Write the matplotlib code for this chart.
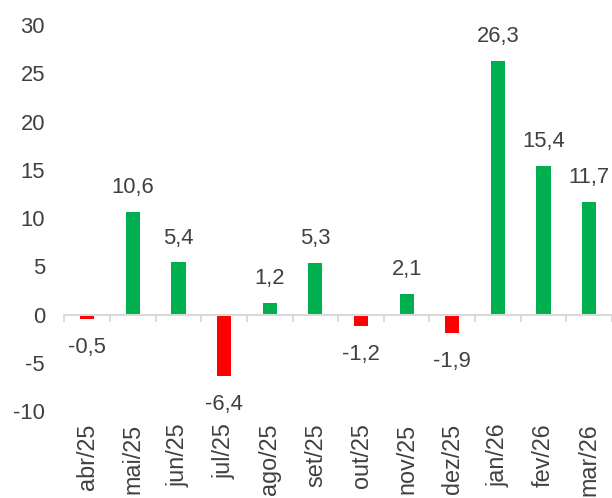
import matplotlib
matplotlib.use("Agg")
import matplotlib.pyplot as plt
import numpy as np

categories = ["abr/25", "mai/25", "jun/25", "jul/25", "ago/25", "set/25",
              "out/25", "nov/25", "dez/25", "jan/26", "fev/26", "mar/26"]
values = [-0.5, 10.6, 5.4, -6.4, 1.2, 5.3, -1.2, 2.1, -1.9, 26.3, 15.4, 11.7]
labels = ["-0,5", "10,6", "5,4", "-6,4", "1,2", "5,3", "-1,2", "2,1", "-1,9",
          "26,3", "15,4", "11,7"]
yticks = [-10, -5, 0, 5, 10, 15, 20, 25, 30]

GREEN = "#00B050"
RED = "#FF0000"
TXT = "#404040"
GRID = "#D9D9D9"

plt.rcParams["font.family"] = ["Liberation Sans", "DejaVu Sans"]
FS = 15.8
FSX = 16.8

fig = plt.figure(figsize=(6.12, 4.98), dpi=100)
ax = fig.add_axes([64.4 / 612, 1 - 411 / 498, 1 - 64.4 / 612, (411 - 25) / 498])

x = np.arange(len(categories))
colors = [GREEN if v >= 0 else RED for v in values]
ax.bar(x, values, width=0.31, color=colors, zorder=2)

for xi, v, lab in zip(x, values, labels):
    if v >= 0:
        ax.annotate(lab, (xi, v), xytext=(0, 10), textcoords="offset points",
                    ha="center", va="bottom", fontsize=FS, color=TXT)
    else:
        ax.annotate(lab, (xi, v), xytext=(0, -13), textcoords="offset points",
                    ha="center", va="top", fontsize=FS, color=TXT)

ax.set_ylim(-10, 30)
ax.set_xlim(-0.5, (612 - 64.4) / 46 - 0.5)
ax.set_yticks(yticks)
ax.set_yticklabels([str(t) for t in yticks])
ax.tick_params(axis="y", length=0, labelsize=FS, labelcolor=TXT, pad=14)

for s in ["top", "right", "left"]:
    ax.spines[s].set_visible(False)
ax.spines["bottom"].set_position(("data", 0))
ax.spines["bottom"].set_color(GRID)
ax.spines["bottom"].set_linewidth(1.5)
ax.set_xticks(x)
ax.set_xticks(np.arange(len(categories) + 1) - 0.5, minor=True)
ax.tick_params(axis="x", which="major", length=0, labelbottom=False)
ax.tick_params(axis="x", which="minor", length=5, width=1.3, color=GRID,
               direction="out")

sec = ax.secondary_xaxis("bottom")
sec.set_xticks(x)
sec.set_xticklabels(categories, rotation=90, fontsize=FSX, color=TXT)
sec.tick_params(axis="x", length=0, pad=9)
sec.spines["bottom"].set_visible(False)

fig.savefig("out.png", dpi=100)
